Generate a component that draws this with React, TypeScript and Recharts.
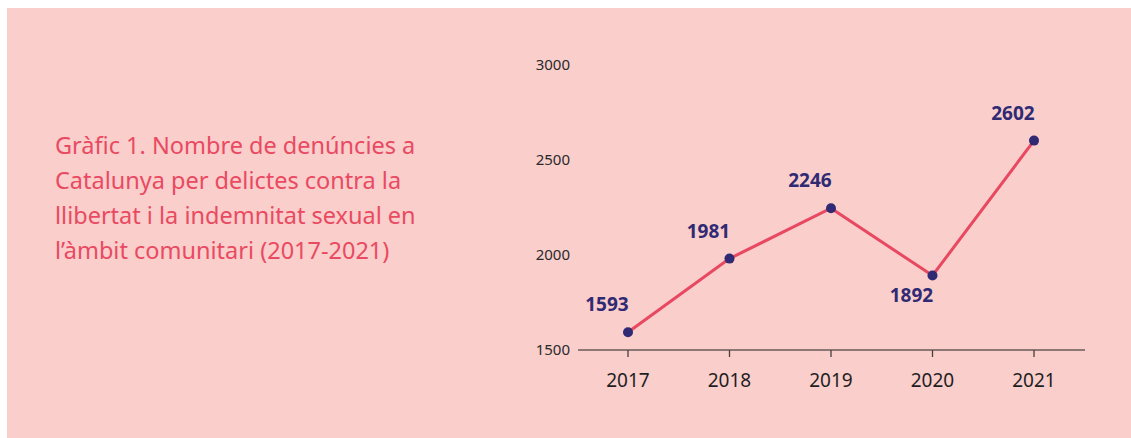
import { LineChart, Line, XAxis, YAxis, LabelList } from 'recharts';

const years = ['2017', '2018', '2019', '2020', '2021'];
const denuncies = [1593, 1981, 2246, 1892, 2602];
const yTicks = [1500, 2000, 2500, 3000];

const titleLines = [
	'Gràfic 1. Nombre de denúncies a',
	'Catalunya per delictes contra la',
	'llibertat i la indemnitat sexual en',
	'l’àmbit comunitari (2017-2021)',
];

const data = years.map((year, i) => ({ year, value: denuncies[i] }));

const FONT = '"Noto Sans", sans-serif';

function isDip(index: number) {
	const v = denuncies[index];
	const prev = denuncies[index - 1];
	const next = denuncies[index + 1];
	return prev !== undefined && next !== undefined && v < prev && v < next;
}

function ValueLabel(props: any) {
	const { x, y, value, index } = props;
	const below = isDip(index);
	return (
		<text
			x={x - 21}
			y={below ? y + 26 : y - 21}
			textAnchor="middle"
			fill="#2f2a73"
			fontFamily={FONT}
			fontWeight={700}
			fontSize={19}
		>
			{value}
		</text>
	);
}

function YearTick(props: any) {
	const { x, y, payload } = props;
	return (
		<g>
			<line x1={x} x2={x} y1={y - 8} y2={y - 1} stroke="#4a3f3f" strokeWidth={1.3} />
			<text x={x} y={y + 29} textAnchor="middle" fill="#1f1f1f" fontFamily={FONT} fontSize={19}>
				{payload.value}
			</text>
		</g>
	);
}

export default function App() {
	return (
		<div style={styles.page}>
			<div style={styles.panel} />
			<div style={styles.title}>
				{titleLines.map((line) => (
					<div key={line}>{line}</div>
				))}
			</div>
			<div style={styles.chart}>
				<LineChart
					width={1131}
					height={438}
					data={data}
					margin={{ top: 65, right: 46, left: 518, bottom: 48 }}
				>
					<XAxis
						dataKey="year"
						height={40}
						padding={{ left: 50, right: 51 }}
						axisLine={{ stroke: '#6b5a5a', strokeWidth: 1.5 }}
						tickLine={false}
						tick={<YearTick />}
					/>
					<YAxis
						width={60}
						domain={[1500, 3000]}
						ticks={yTicks}
						axisLine={false}
						tickLine={false}
						tickSize={0}
						tickMargin={8}
						tick={{ fill: '#2a2a2a', fontSize: 15, fontFamily: FONT }}
					/>
					<Line
						type="linear"
						dataKey="value"
						stroke="#e84860"
						strokeWidth={3}
						dot={{ r: 5, fill: '#2f2a73', stroke: 'none' }}
						isAnimationActive={false}
					>
						<LabelList dataKey="value" content={<ValueLabel />} />
					</Line>
				</LineChart>
			</div>
		</div>
	);
}

const styles: Record<string, React.CSSProperties> = {
	page: {
		position: 'fixed',
		left: 0,
		top: 0,
		width: 1131,
		height: 438,
		background: '#fff',
		overflow: 'hidden',
	},
	panel: {
		position: 'absolute',
		left: 7,
		top: 8,
		right: 0,
		bottom: 0,
		background: '#f9cecb',
	},
	title: {
		position: 'absolute',
		left: 55,
		top: 128,
		fontFamily: FONT,
		fontSize: 23.5,
		lineHeight: '35px',
		color: '#e94a62',
		whiteSpace: 'nowrap',
	},
	chart: {
		position: 'absolute',
		left: 0,
		top: 0,
	},
};
